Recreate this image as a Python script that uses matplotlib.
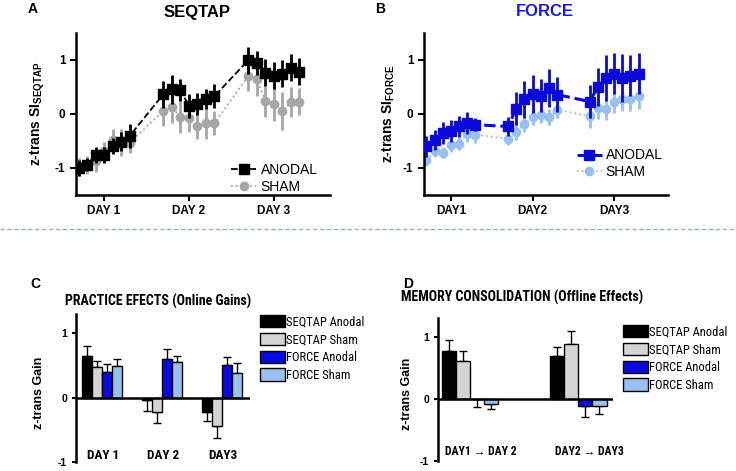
import matplotlib
matplotlib.use('Agg')
import matplotlib.pyplot as plt
import numpy as np
from matplotlib.lines import Line2D

plt.rcParams['font.family'] = ['Liberation Sans', 'DejaVu Sans']
plt.rcParams['mathtext.fontset'] = 'custom'
plt.rcParams['mathtext.rm'] = 'Liberation Sans'
plt.rcParams['mathtext.bf'] = 'Liberation Sans:bold'
NARROW = ['Roboto Condensed', 'Liberation Sans', 'DejaVu Sans']

# --- learning curves (7 blocks per day) ---
day_labels_a = ['DAY 1', 'DAY 2', 'DAY 3']
day_labels_b = ['DAY1', 'DAY2', 'DAY3']

seq_anodal = [-1.00, -0.94, -0.76, -0.76, -0.59, -0.51, -0.41,
              0.37, 0.46, 0.44, 0.15, 0.19, 0.28, 0.33,
              1.00, 0.95, 0.76, 0.71, 0.75, 0.86, 0.78]
seq_anodal_err = [0.15, 0.12, 0.15, 0.15, 0.15, 0.17, 0.22,
                  0.25, 0.27, 0.20, 0.22, 0.20, 0.18, 0.22,
                  0.25, 0.22, 0.25, 0.25, 0.25, 0.25, 0.25]
seq_sham = [-0.98, -0.94, -0.87, -0.68, -0.48, -0.53, -0.53,
            0.06, 0.13, -0.06, -0.08, -0.22, -0.17, -0.17,
            0.71, 0.64, 0.25, 0.19, 0.05, 0.22, 0.23]
seq_sham_err = [0.17, 0.17, 0.20, 0.17, 0.20, 0.25, 0.20,
                0.28, 0.30, 0.30, 0.25, 0.25, 0.30, 0.22,
                0.28, 0.30, 0.30, 0.32, 0.35, 0.28, 0.25]

force_anodal = [-0.60, -0.48, -0.35, -0.31, -0.23, -0.17, -0.20,
                -0.23, 0.10, 0.27, 0.37, 0.34, 0.48, 0.36,
                0.23, 0.50, 0.67, 0.75, 0.67, 0.71, 0.75]
force_anodal_err = [0.20, 0.18, 0.20, 0.20, 0.20, 0.20, 0.12,
                    0.18, 0.30, 0.35, 0.35, 0.30, 0.35, 0.32,
                    0.30, 0.35, 0.42, 0.38, 0.45, 0.38, 0.38]
force_sham = [-0.86, -0.69, -0.72, -0.58, -0.55, -0.37, -0.38,
              -0.46, -0.34, -0.19, -0.06, -0.02, -0.06, 0.08,
              -0.04, 0.11, 0.09, 0.22, 0.28, 0.28, 0.34]
force_sham_err = [0.10, 0.10, 0.10, 0.12, 0.12, 0.15, 0.15,
                  0.12, 0.15, 0.15, 0.15, 0.15, 0.15, 0.15,
                  0.22, 0.20, 0.20, 0.20, 0.22, 0.22, 0.25]

# --- gains ---
groups = ['SEQTAP Anodal', 'SEQTAP Sham', 'FORCE Anodal', 'FORCE Sham']
group_colors = ['#000000', '#d4d4d4', '#0a0ae0', '#98c0f0']

online_days = ['DAY 1', 'DAY 2', 'DAY3']
online_gain = [[0.64, -0.03, -0.22],
               [0.47, -0.22, -0.44],
               [0.40, 0.60, 0.51],
               [0.49, 0.56, 0.38]]
online_err = [[0.17, 0.18, 0.14],
              [0.10, 0.17, 0.19],
              [0.13, 0.15, 0.12],
              [0.11, 0.08, 0.16]]

offline_days = ['DAY1 \u2192 DAY 2', 'DAY2 \u2192 DAY3']
offline_gain = [[0.77, 0.69],
                [0.61, 0.88],
                [-0.01, -0.11],
                [-0.08, -0.11]]
offline_err = [[0.18, 0.15],
               [0.16, 0.21],
               [0.12, 0.19],
               [0.08, 0.14]]

W, H = 736, 471
fig = plt.figure(figsize=(W / 100, H / 100), dpi=100)


def px_axes(l, t, r, b):
    return fig.add_axes([l / W, 1 - b / H, (r - l) / W, (b - t) / H])


x_trials = np.concatenate([np.arange(7) + 10 * d for d in range(3)])


def curve_panel(ax, an, an_err, sh, sh_err, c_an, c_sh, lw_an, days, ylab, lab_x, leg_anchor):
    ax.errorbar(x_trials, sh, yerr=sh_err, color=c_sh, ls=':', lw=1.3,
                marker='o', ms=6, elinewidth=2, capsize=0, zorder=2)
    ax.errorbar(x_trials, an, yerr=an_err, color=c_an, ls='--', lw=lw_an,
                marker='s', ms=7, elinewidth=2, capsize=0, zorder=3)
    ax.set_xlim(-0.3, 29.6)
    ax.set_ylim(-1.5, 1.5)
    ax.set_xticks([3, 13, 23])
    ax.set_xticklabels(days, fontweight='bold', fontsize=8.5)
    ax.set_yticks([-1, 0, 1])
    ax.set_yticklabels(['-1', '0', '1'], fontweight='bold', fontsize=8.5)
    for s in ['top', 'right']:
        ax.spines[s].set_visible(False)
    for s in ['left', 'bottom']:
        ax.spines[s].set_linewidth(1.8)
    ax.tick_params(width=1.5, length=4)
    ax.set_ylabel(ylab, fontweight='bold', fontsize=10)
    ax.yaxis.set_label_coords(lab_x, 0.5)
    handles = [Line2D([], [], color=c_an, ls='--', lw=lw_an, marker='s', ms=7),
               Line2D([], [], color=c_sh, ls=':', lw=1.3, marker='o', ms=6)]
    ax.legend(handles, ['ANODAL', 'SHAM'], loc='lower right', bbox_to_anchor=leg_anchor,
              frameon=False, fontsize=10, handlelength=1.8, handletextpad=0.3,
              labelspacing=0.2)


axA = px_axes(76, 33, 330, 195)
curve_panel(axA, seq_anodal, seq_anodal_err, seq_sham, seq_sham_err,
            '#000000', '#a6a6a6', 1.3, day_labels_a, r'z-trans SI$_{\mathbf{SEQTAP}}$',
            -0.115, (1.0, -0.07))

axB = px_axes(424, 33, 668, 195)
curve_panel(axB, force_anodal, force_anodal_err, force_sham, force_sham_err,
            '#0a0ad8', '#98c0f0', 2.2, day_labels_b, r'z-trans SI$_{\mathbf{FORCE}}$',
            -0.11, (1.03, 0.02))


def bar_panel(ax, vals, errs, days, width, xlim, label_y, label_dx, day_fs, lab_x, leg_anchor):
    n = len(days)
    x = np.arange(n)
    for i in range(4):
        xi = x + (i - 1.5) * width
        ax.bar(xi, vals[i], width, color=group_colors[i], edgecolor='black',
               linewidth=1, label=groups[i], zorder=2)
        v = np.array(vals[i])
        e = np.array(errs[i])
        lower = np.where(v < 0, e, 0)
        upper = np.where(v >= 0, e, 0)
        ax.errorbar(xi, v, yerr=[lower, upper], fmt='none', ecolor='black',
                    elinewidth=1, capsize=3, capthick=1, zorder=1)
    ax.axhline(0, color='black', lw=1.8, zorder=3)
    ax.set_xlim(*xlim)
    ax.set_ylim(-1, 1.3)
    ax.set_xticks([])
    ax.set_yticks([-1, 0, 1])
    ax.set_yticklabels(['-1', '0', '1'], fontweight='bold', fontsize=7.5)
    for s in ['top', 'right', 'bottom']:
        ax.spines[s].set_visible(False)
    ax.spines['left'].set_linewidth(1.8)
    ax.tick_params(width=1.5, length=3)
    ax.set_ylabel('z-trans Gain', fontweight='bold', fontsize=9)
    ax.yaxis.set_label_coords(lab_x, 0.47)
    for xi, d in zip(x, days):
        ax.text(xi + label_dx, label_y, d, ha='center', va='center', fontweight='bold',
                fontsize=day_fs, family=NARROW)
    ax.legend(loc='upper left', bbox_to_anchor=leg_anchor, frameon=False,
              prop={'family': NARROW, 'size': 9}, handlelength=2.0, handleheight=1.15,
              handletextpad=0.15, labelspacing=0.35)


axC = px_axes(76, 314, 250, 462)
bar_panel(axC, online_gain, online_err, online_days, 0.167, (-0.43, 2.47), -0.9, 0.02, 9.5,
          -0.178, (0.99, 1.07))

axD = px_axes(438, 318, 613, 461)
bar_panel(axD, offline_gain, offline_err, offline_days, 0.13, (-0.30, 1.32), -0.85, 0.1, 8.5,
          -0.143, (0.99, 1.03))

# titles and panel letters
fig.text(28 / W, 1 - 9 / H, 'A', fontweight='bold', fontsize=10, va='center')
fig.text(375 / W, 1 - 9 / H, 'B', fontweight='bold', fontsize=10, va='center')
fig.text(197 / W, 1 - 12 / H, 'SEQTAP', fontweight='bold', fontsize=12, ha='center', va='center')
fig.text(545 / W, 1 - 12 / H, 'FORCE', fontweight='bold', fontsize=12, ha='center', va='center',
         color='#1a1ae0')
fig.text(30 / W, 1 - 284 / H, 'C', fontweight='bold', fontsize=10, va='center')
fig.text(403 / W, 1 - 284 / H, 'D', fontweight='bold', fontsize=10, va='center')
fig.text(65 / W, 1 - 301 / H, 'PRACTICE EFECTS (Online Gains)', fontweight='bold',
         fontsize=10, va='center', family=NARROW)
fig.text(401 / W, 1 - 297 / H, 'MEMORY CONSOLIDATION (Offline Effects)', fontweight='bold',
         fontsize=10, va='center', family=NARROW)

# dashed separator
fig.add_artist(Line2D([0, 1], [1 - 229 / H, 1 - 229 / H], transform=fig.transFigure,
                      color='#8fb0d8', lw=1, ls=(0, (3, 2))))

fig.savefig('out.png', dpi=100)
